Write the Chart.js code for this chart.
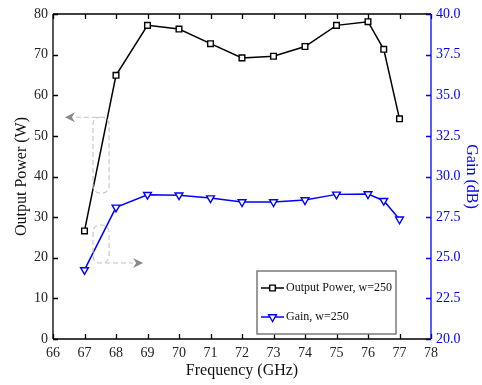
<!DOCTYPE html>
<html>
<head>
<meta charset="utf-8">
<script src="https://cdn.jsdelivr.net/npm/chart.js@4/dist/chart.umd.min.js"></script>
<style>
html,body{margin:0;padding:0;background:#fff;}
#wrap{width:482px;height:385px;position:relative;}
</style>
</head>
<body>
<div id="wrap"><canvas id="c" width="482" height="385"></canvas></div>
<script>
// ---- data ----
const freqGHz = [67, 68, 69, 70, 71, 72, 73, 74, 75, 76, 76.5, 77];
const outputPowerW = [26.6, 64.9, 77.2, 76.3, 72.7, 69.2, 69.6, 72.0, 77.2, 78.1, 71.3, 54.2];
const gainDB = [24.25, 28.1, 28.88, 28.85, 28.67, 28.43, 28.43, 28.55, 28.9, 28.92, 28.51, 27.37];
const seriesNames = ['Output Power, w=250', 'Gain, w=250'];
const xTitle = 'Frequency (GHz)';
const yLeftTitle = 'Output Power (W)';
const yRightTitle = 'Gain (dB)';

const FONT = "'Liberation Serif', 'Times New Roman', serif";
const BLUE = '#0000ff';

const pts = (xs, ys) => xs.map((x, i) => ({x: x, y: ys[i]}));

// annotation (dashed callouts) in data units
const callLeft = {x0: 67.27, x1: 67.78, yTop: 54.6, yBot: 35.9, tip: 66.38};
const callRight = {x0: 67.27, x1: 67.78, yTop: 28.06, yBot: 18.7, tip: 68.86};

const framePlugin = {
  id: 'frame',
  afterDraw(chart) {
    const ctx = chart.ctx;
    const a = chart.chartArea;
    const sx = chart.scales.x, sy = chart.scales.y, sy2 = chart.scales.y2;
    const TL = 5;
    ctx.save();
    ctx.lineWidth = 1.3;
    ctx.strokeStyle = '#000';
    ctx.beginPath();
    sx.ticks.forEach(t => {
      const px = Math.round(sx.getPixelForValue(t.value)) + 0.5;
      ctx.moveTo(px, a.bottom); ctx.lineTo(px, a.bottom - TL);
      ctx.moveTo(px, a.top); ctx.lineTo(px, a.top + TL);
    });
    sy.ticks.forEach(t => {
      const py = Math.round(sy.getPixelForValue(t.value)) + 0.5;
      ctx.moveTo(a.left, py); ctx.lineTo(a.left + TL, py);
    });
    ctx.stroke();
    ctx.strokeStyle = BLUE;
    ctx.beginPath();
    sy2.ticks.forEach(t => {
      const py = Math.round(sy2.getPixelForValue(t.value)) + 0.5;
      ctx.moveTo(a.right, py); ctx.lineTo(a.right - TL, py);
    });
    ctx.stroke();
    ctx.strokeStyle = '#000';
    ctx.beginPath();
    ctx.moveTo(a.left, a.top); ctx.lineTo(a.right, a.top);
    ctx.moveTo(a.left, a.top); ctx.lineTo(a.left, a.bottom);
    ctx.moveTo(a.left, a.bottom); ctx.lineTo(a.right, a.bottom);
    ctx.stroke();
    ctx.strokeStyle = BLUE;
    ctx.beginPath();
    ctx.moveTo(a.right, a.top); ctx.lineTo(a.right, a.bottom);
    ctx.stroke();

    const drawCall = (c, dir) => {
      const x0 = sx.getPixelForValue(c.x0), x1 = sx.getPixelForValue(c.x1);
      const yt = sy.getPixelForValue(c.yTop), yb = sy.getPixelForValue(c.yBot);
      const tip = sx.getPixelForValue(c.tip);
      ctx.save();
      ctx.strokeStyle = '#c4c4c4';
      ctx.lineWidth = 1.1;
      ctx.setLineDash([5, 3]);
      ctx.beginPath();
      ctx.roundRect(x0, yt, x1 - x0, yb - yt, 7);
      ctx.stroke();
      ctx.beginPath();
      const yy = dir < 0 ? yt : yb;
      const sxStart = dir < 0 ? x0 + 4 : x1 - 4;
      const headLen = 10;
      ctx.moveTo(sxStart, yy);
      ctx.lineTo(dir < 0 ? tip + headLen : tip - headLen, yy);
      ctx.stroke();
      ctx.setLineDash([]);
      ctx.fillStyle = '#8a8a8a';
      ctx.beginPath();
      ctx.moveTo(tip, yy);
      ctx.lineTo(tip - dir * headLen, yy - 5);
      ctx.lineTo(tip - dir * (headLen - 3), yy);
      ctx.lineTo(tip - dir * headLen, yy + 5);
      ctx.closePath();
      ctx.fill();
      ctx.restore();
    };
    drawCall(callLeft, -1);
    drawCall(callRight, 1);

    // legend
    const lx = 257, ly = 271, lw = 139, lh = 63;
    ctx.fillStyle = '#fff';
    ctx.fillRect(lx, ly, lw, lh);
    ctx.strokeStyle = '#7a7a7a';
    ctx.lineWidth = 1.5;
    ctx.strokeRect(lx, ly, lw, lh);
    const rows = [288, 317];
    chart.data.datasets.forEach((ds, i) => {
      const y = rows[i];
      ctx.strokeStyle = ds.borderColor;
      ctx.lineWidth = 1.5;
      ctx.beginPath();
      ctx.moveTo(261, y); ctx.lineTo(284, y);
      ctx.stroke();
      ctx.fillStyle = ds.pointBackgroundColor;
      ctx.strokeStyle = ds.borderColor;
      ctx.lineWidth = ds.pointBorderWidth;
      ctx.beginPath();
      if (ds.pointStyle === 'rect') {
        const s = ds.pointRadius / Math.SQRT2;
        ctx.rect(272.5 - s, y - s, 2 * s, 2 * s);
      } else {
        const r = ds.pointRadius;
        ctx.moveTo(272.5, y + r);
        ctx.lineTo(272.5 - r * Math.sin(Math.PI / 3), y - r / 2);
        ctx.lineTo(272.5 + r * Math.sin(Math.PI / 3), y - r / 2);
        ctx.closePath();
      }
      ctx.fill(); ctx.stroke();
      ctx.fillStyle = '#111';
      ctx.font = '12px ' + FONT;
      ctx.textBaseline = 'middle';
      ctx.textAlign = 'left';
      ctx.fillText(seriesNames[i], 286, y);
    });
    ctx.restore();
  }
};

new Chart(document.getElementById('c'), {
  type: 'line',
  data: {
    datasets: [
      {
        label: seriesNames[0],
        data: pts(freqGHz, outputPowerW),
        yAxisID: 'y',
        borderColor: '#000',
        borderWidth: 1.5,
        pointStyle: 'rect',
        pointRadius: 4,
        pointBorderWidth: 1.4,
        pointBackgroundColor: '#fff',
        pointBorderColor: '#000',
        tension: 0
      },
      {
        label: seriesNames[1],
        data: pts(freqGHz, gainDB),
        yAxisID: 'y2',
        borderColor: BLUE,
        borderWidth: 1.5,
        pointStyle: 'triangle',
        pointRotation: 180,
        pointRadius: 4.5,
        pointBorderWidth: 1.4,
        pointBackgroundColor: '#fff',
        pointBorderColor: BLUE,
        tension: 0
      }
    ]
  },
  options: {
    responsive: false,
    animation: false,
    devicePixelRatio: 1,
    layout: {padding: {top: 14, left: 0, right: 0, bottom: 0}},
    plugins: {legend: {display: false}, tooltip: {enabled: false}},
    scales: {
      x: {
        type: 'linear', position: 'bottom', min: 66, max: 78,
        ticks: {stepSize: 1, color: '#222', font: {family: FONT, size: 14}, padding: 6},
        grid: {display: false, drawTicks: false},
        border: {display: false},
        title: {display: true, text: xTitle, color: '#111', font: {family: FONT, size: 16}, padding: {top: 0, bottom: 4.4}},
        afterFit: s => { s.height = 46; }
      },
      y: {
        type: 'linear', position: 'left', min: 0, max: 80,
        ticks: {stepSize: 10, color: '#222', font: {family: FONT, size: 14}, padding: 5},
        grid: {display: false, drawTicks: false},
        border: {display: false},
        title: {display: true, text: yLeftTitle, color: '#111', font: {family: FONT, size: 16}, padding: {top: 12.4, bottom: 0}},
        afterFit: s => { s.width = 53; }
      },
      y2: {
        type: 'linear', position: 'right', min: 20, max: 40,
        ticks: {stepSize: 2.5, color: BLUE, font: {family: FONT, size: 14}, padding: 5,
          callback: v => v.toFixed(1)},
        grid: {display: false, drawTicks: false},
        border: {display: false},
        title: {display: true, text: yRightTitle, color: BLUE, font: {family: FONT, size: 16}, padding: {top: 1.4, bottom: 0}},
        afterFit: s => { s.width = 51; }
      }
    }
  },
  plugins: [framePlugin]
});
</script>
</body>
</html>
